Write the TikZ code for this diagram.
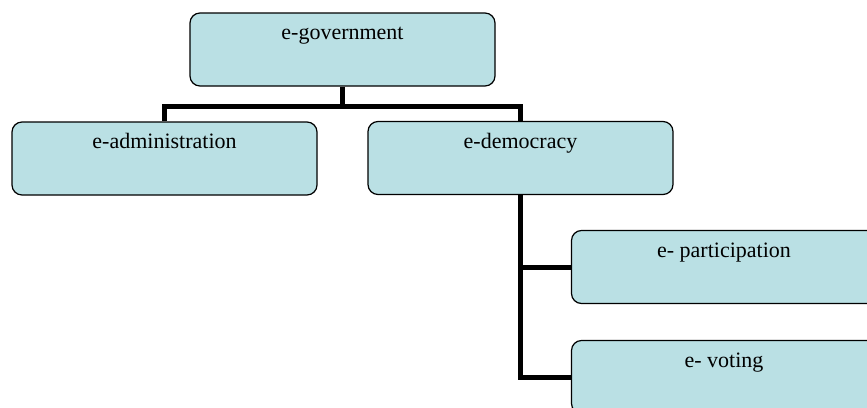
\documentclass[tikz,border=0pt]{standalone}
\usepackage{fontspec}
\setmainfont{Liberation Serif}
\definecolor{boxfill}{RGB}{186,224,228}
\begin{document}
\begin{tikzpicture}[
        x=1pt, y=1pt,
        box/.style={draw, line width=1.2pt, rounded corners=10pt, fill=boxfill,
          minimum width=305pt, inner xsep=0pt, inner ysep=0pt,
          text height=26.5pt, text depth=46.5pt,
          font=\fontsize{22}{26}\selectfont},
        link/.style={line width=5pt}
      ]
      \useasboundingbox (0,0) rectangle (867,-407);
      \node[box] (gov) at (342.5,-49.5) {e-government};
      \node[box] (admin) at (164.5,-158.5) {e-administration};
      \node[box] (demo) at (520.5,-158) {e-democracy};
      \node[box] (part) at (724,-267) {e- participation};
      \node[box] (vote) at (724,-377) {e- voting};
      \draw[link] (gov.south) -- ++(0,-19.5) coordinate (fork);
      \draw[link] (admin.north) |- (fork) -| (demo.north);
      \draw[link] (demo.south) |- (part.west);
      \draw[link] (demo.south) |- (vote.west);
      \end{tikzpicture}
\end{document}
